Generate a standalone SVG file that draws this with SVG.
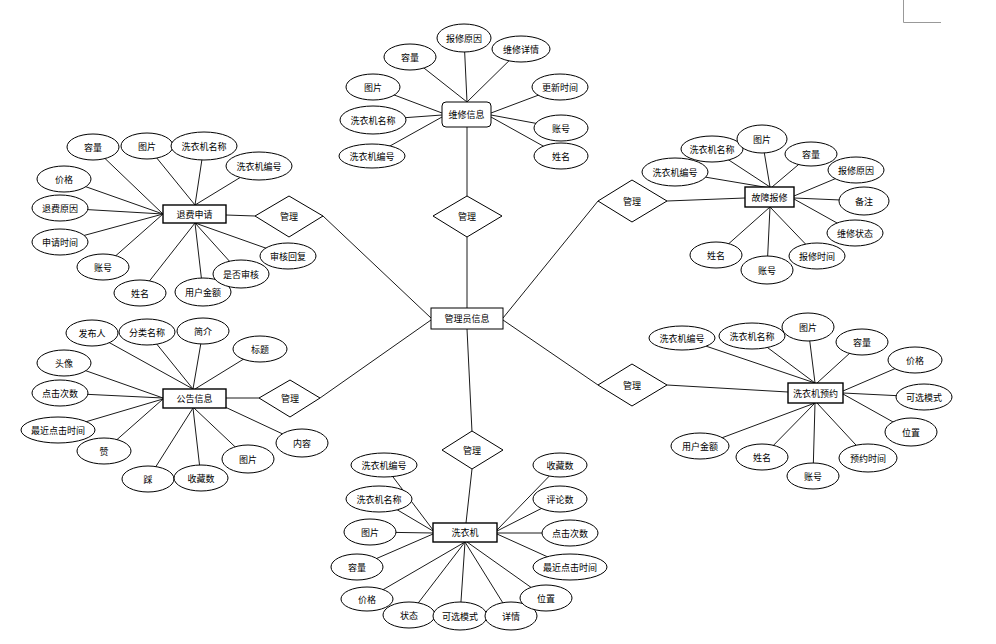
<svg xmlns="http://www.w3.org/2000/svg" width="996" height="644" viewBox="0 0 996 644">
<style>
.c line{stroke:#1a1a1a;stroke-width:1}
ellipse,rect,polygon{fill:#fff;stroke:#000;stroke-width:1}
rect.b{stroke-width:1.4}
text{font-family:"Noto Sans CJK SC","Liberation Sans",sans-serif;font-size:9px;fill:#000;text-anchor:middle;dominant-baseline:central}
</style>
<path d="M903.5 0V22.5H941" fill="none" stroke="#999" stroke-width="1"/>
<g id="connectors" class="c">
<line x1="467" y1="127" x2="467" y2="196"/>
<line x1="467" y1="237" x2="467" y2="308"/>
<line x1="226" y1="215" x2="255" y2="216"/>
<line x1="323" y1="216" x2="431" y2="318"/>
<line x1="598" y1="201" x2="503" y2="318"/>
<line x1="667" y1="201" x2="745" y2="198"/>
<line x1="226" y1="398" x2="259" y2="398"/>
<line x1="320" y1="398" x2="431" y2="320"/>
<line x1="598" y1="385" x2="503" y2="320"/>
<line x1="667" y1="385" x2="788" y2="392"/>
<line x1="467" y1="329" x2="472" y2="432"/>
<line x1="472" y1="469" x2="466" y2="523"/>
<line x1="410" y1="57" x2="467" y2="102"/>
<line x1="464" y1="38" x2="467" y2="102"/>
<line x1="521" y1="49" x2="467" y2="102"/>
<line x1="373" y1="87" x2="442" y2="113"/>
<line x1="373" y1="120" x2="442" y2="115"/>
<line x1="372" y1="156" x2="442" y2="117"/>
<line x1="560" y1="87" x2="491" y2="113"/>
<line x1="561" y1="128" x2="491" y2="115"/>
<line x1="561" y1="156" x2="491" y2="117"/>
<line x1="93" y1="147" x2="163" y2="214"/>
<line x1="64" y1="179" x2="163" y2="214"/>
<line x1="60" y1="208" x2="163" y2="214"/>
<line x1="60" y1="242" x2="163" y2="214"/>
<line x1="103" y1="267" x2="163" y2="214"/>
<line x1="147" y1="146" x2="195" y2="205"/>
<line x1="204" y1="146" x2="195" y2="205"/>
<line x1="259" y1="166" x2="195" y2="205"/>
<line x1="140" y1="293" x2="195" y2="223"/>
<line x1="203" y1="292" x2="195" y2="223"/>
<line x1="241" y1="274" x2="195" y2="223"/>
<line x1="288" y1="256" x2="195" y2="223"/>
<line x1="712" y1="149" x2="770" y2="187"/>
<line x1="675" y1="172" x2="770" y2="188"/>
<line x1="762" y1="139" x2="770" y2="187"/>
<line x1="811" y1="154" x2="772" y2="187"/>
<line x1="856" y1="170" x2="794" y2="196"/>
<line x1="864" y1="201" x2="794" y2="198"/>
<line x1="855" y1="233" x2="794" y2="199"/>
<line x1="817" y1="256" x2="770" y2="207"/>
<line x1="767" y1="270" x2="770" y2="207"/>
<line x1="716" y1="255" x2="770" y2="207"/>
<line x1="92" y1="333" x2="193" y2="389"/>
<line x1="147" y1="332" x2="193" y2="389"/>
<line x1="203" y1="331" x2="193" y2="389"/>
<line x1="260" y1="349" x2="195" y2="389"/>
<line x1="64" y1="363" x2="163" y2="398"/>
<line x1="60" y1="393" x2="163" y2="398"/>
<line x1="58" y1="430" x2="163" y2="399"/>
<line x1="104" y1="451" x2="163" y2="399"/>
<line x1="148" y1="479" x2="193" y2="408"/>
<line x1="201" y1="478" x2="193" y2="408"/>
<line x1="248" y1="459" x2="194" y2="408"/>
<line x1="302" y1="443" x2="225" y2="407"/>
<line x1="682" y1="338" x2="815" y2="383"/>
<line x1="752" y1="336" x2="815" y2="383"/>
<line x1="808" y1="327" x2="815" y2="383"/>
<line x1="862" y1="342" x2="817" y2="383"/>
<line x1="915" y1="360" x2="843" y2="391"/>
<line x1="924" y1="397" x2="843" y2="393"/>
<line x1="911" y1="432" x2="843" y2="394"/>
<line x1="868" y1="458" x2="817" y2="403"/>
<line x1="813" y1="476" x2="815" y2="403"/>
<line x1="762" y1="457" x2="815" y2="403"/>
<line x1="700" y1="446" x2="815" y2="403"/>
<line x1="384" y1="465" x2="433" y2="530"/>
<line x1="379" y1="499" x2="433" y2="531"/>
<line x1="370" y1="532" x2="433" y2="533"/>
<line x1="357" y1="567" x2="433" y2="534"/>
<line x1="560" y1="465" x2="497" y2="530"/>
<line x1="560" y1="499" x2="497" y2="531"/>
<line x1="570" y1="533" x2="497" y2="533"/>
<line x1="570" y1="567" x2="497" y2="534"/>
<line x1="367" y1="599" x2="465" y2="542"/>
<line x1="409" y1="615" x2="465" y2="542"/>
<line x1="460" y1="616" x2="465" y2="542"/>
<line x1="511" y1="616" x2="465" y2="542"/>
<line x1="546" y1="598" x2="467" y2="542"/>
</g>

<g id="admin"><rect x="431" y="308" width="72" height="21"/><text x="467" y="318.5">管理员信息</text></g>

<g id="rel-top"><polygon points="433,216 467,196 502,216 467,237"/><text x="467" y="216">管理</text></g>
<g id="rel-refund"><polygon points="255,216 289,196 323,216 289,237"/><text x="289" y="216">管理</text></g>
<g id="rel-fault"><polygon points="598,201 632,180 667,201 632,222"/><text x="632" y="201">管理</text></g>
<g id="rel-notice"><polygon points="259,398 290,380 320,398 290,417"/><text x="290" y="398">管理</text></g>
<g id="rel-booking"><polygon points="598,385 632,364 667,385 632,406"/><text x="632" y="385">管理</text></g>
<g id="rel-washer"><polygon points="442,450 472,431 503,450 472,469"/><text x="472" y="450">管理</text></g>

<g id="repair"><rect x="442" y="102" width="49" height="25" rx="4"/><text x="466.5" y="114.5">维修信息</text></g>
<g id="repair-attrs">
<ellipse cx="410" cy="57" rx="26" ry="13"/><text x="410" y="57">容量</text>
<ellipse cx="464" cy="38" rx="27" ry="14"/><text x="464" y="38">报修原因</text>
<ellipse cx="521" cy="49" rx="29" ry="13"/><text x="521" y="49">维修详情</text>
<ellipse cx="373" cy="87" rx="27" ry="13"/><text x="373" y="87">图片</text>
<ellipse cx="373" cy="120" rx="33" ry="14"/><text x="373" y="120">洗衣机名称</text>
<ellipse cx="372" cy="156" rx="33" ry="12"/><text x="372" y="156">洗衣机编号</text>
<ellipse cx="560" cy="87" rx="28" ry="13"/><text x="560" y="87">更新时间</text>
<ellipse cx="561" cy="128" rx="27" ry="13"/><text x="561" y="128">账号</text>
<ellipse cx="561" cy="156" rx="27" ry="13"/><text x="561" y="156">姓名</text>
</g>

<g id="refund"><rect class="b" x="163" y="205" width="63" height="18"/><text x="194.5" y="214">退费申请</text></g>
<g id="refund-attrs">
<ellipse cx="93" cy="147" rx="26" ry="13"/><text x="93" y="147">容量</text>
<ellipse cx="147" cy="146" rx="26" ry="13"/><text x="147" y="146">图片</text>
<ellipse cx="204" cy="146" rx="33" ry="14"/><text x="204" y="146">洗衣机名称</text>
<ellipse cx="259" cy="166" rx="33" ry="14"/><text x="259" y="166">洗衣机编号</text>
<ellipse cx="64" cy="179" rx="27" ry="13"/><text x="64" y="179">价格</text>
<ellipse cx="60" cy="208" rx="28" ry="13"/><text x="60" y="208">退费原因</text>
<ellipse cx="60" cy="242" rx="28" ry="13"/><text x="60" y="242">申请时间</text>
<ellipse cx="103" cy="267" rx="26" ry="13"/><text x="103" y="267">账号</text>
<ellipse cx="140" cy="293" rx="26" ry="13"/><text x="140" y="293">姓名</text>
<ellipse cx="203" cy="292" rx="28" ry="14"/><text x="203" y="292">用户金额</text>
<ellipse cx="241" cy="274" rx="28" ry="14"/><text x="241" y="274">是否审核</text>
<ellipse cx="288" cy="256" rx="28" ry="13"/><text x="288" y="256">审核回复</text>
</g>

<g id="fault"><rect class="b" x="745" y="187" width="49" height="20"/><text x="769.5" y="197">故障报修</text></g>
<g id="fault-attrs">
<ellipse cx="712" cy="149" rx="31" ry="13"/><text x="712" y="149">洗衣机名称</text>
<ellipse cx="762" cy="139" rx="25" ry="14"/><text x="762" y="139">图片</text>
<ellipse cx="811" cy="154" rx="26" ry="12"/><text x="811" y="154">容量</text>
<ellipse cx="675" cy="172" rx="33" ry="14"/><text x="675" y="172">洗衣机编号</text>
<ellipse cx="856" cy="170" rx="28" ry="13"/><text x="856" y="170">报修原因</text>
<ellipse cx="864" cy="201" rx="25" ry="14"/><text x="864" y="201">备注</text>
<ellipse cx="855" cy="233" rx="28" ry="13"/><text x="855" y="233">维修状态</text>
<ellipse cx="817" cy="256" rx="28" ry="13"/><text x="817" y="256">报修时间</text>
<ellipse cx="767" cy="270" rx="26" ry="14"/><text x="767" y="270">账号</text>
<ellipse cx="716" cy="255" rx="26" ry="13"/><text x="716" y="255">姓名</text>
</g>

<g id="notice"><rect class="b" x="163" y="389" width="63" height="19"/><text x="194.5" y="398.5">公告信息</text></g>
<g id="notice-attrs">
<ellipse cx="92" cy="333" rx="26" ry="13"/><text x="92" y="333">发布人</text>
<ellipse cx="147" cy="332" rx="28" ry="13"/><text x="147" y="332">分类名称</text>
<ellipse cx="203" cy="331" rx="26" ry="13"/><text x="203" y="331">简介</text>
<ellipse cx="260" cy="349" rx="27" ry="13"/><text x="260" y="349">标题</text>
<ellipse cx="64" cy="363" rx="27" ry="13"/><text x="64" y="363">头像</text>
<ellipse cx="60" cy="393" rx="28" ry="13"/><text x="60" y="393">点击次数</text>
<ellipse cx="58" cy="430" rx="37" ry="13"/><text x="58" y="430">最近点击时间</text>
<ellipse cx="104" cy="451" rx="27" ry="13"/><text x="104" y="451">赞</text>
<ellipse cx="148" cy="479" rx="26" ry="13"/><text x="148" y="479">踩</text>
<ellipse cx="201" cy="478" rx="27" ry="13"/><text x="201" y="478">收藏数</text>
<ellipse cx="248" cy="459" rx="26" ry="14"/><text x="248" y="459">图片</text>
<ellipse cx="302" cy="443" rx="26" ry="14"/><text x="302" y="443">内容</text>
</g>

<g id="booking"><rect class="b" x="788" y="383" width="55" height="20"/><text x="815.5" y="393">洗衣机预约</text></g>
<g id="booking-attrs">
<ellipse cx="682" cy="338" rx="33" ry="12"/><text x="682" y="338">洗衣机编号</text>
<ellipse cx="752" cy="336" rx="33" ry="13"/><text x="752" y="336">洗衣机名称</text>
<ellipse cx="808" cy="327" rx="26" ry="14"/><text x="808" y="327">图片</text>
<ellipse cx="862" cy="342" rx="26" ry="13"/><text x="862" y="342">容量</text>
<ellipse cx="915" cy="360" rx="27" ry="13"/><text x="915" y="360">价格</text>
<ellipse cx="924" cy="397" rx="28" ry="13"/><text x="924" y="397">可选模式</text>
<ellipse cx="911" cy="432" rx="26" ry="14"/><text x="911" y="432">位置</text>
<ellipse cx="868" cy="458" rx="29" ry="14"/><text x="868" y="458">预约时间</text>
<ellipse cx="813" cy="476" rx="26" ry="13"/><text x="813" y="476">账号</text>
<ellipse cx="762" cy="457" rx="26" ry="13"/><text x="762" y="457">姓名</text>
<ellipse cx="700" cy="446" rx="29" ry="13"/><text x="700" y="446">用户金额</text>
</g>

<g id="washer"><rect class="b" x="433" y="523" width="64" height="19"/><text x="465" y="532.5">洗衣机</text></g>
<g id="washer-attrs">
<ellipse cx="384" cy="465" rx="33" ry="12"/><text x="384" y="465">洗衣机编号</text>
<ellipse cx="379" cy="499" rx="33" ry="13"/><text x="379" y="499">洗衣机名称</text>
<ellipse cx="370" cy="532" rx="26" ry="13"/><text x="370" y="532">图片</text>
<ellipse cx="357" cy="567" rx="26" ry="13"/><text x="357" y="567">容量</text>
<ellipse cx="367" cy="599" rx="26" ry="12"/><text x="367" y="599">价格</text>
<ellipse cx="409" cy="615" rx="26" ry="13"/><text x="409" y="615">状态</text>
<ellipse cx="460" cy="616" rx="27" ry="14"/><text x="460" y="616">可选模式</text>
<ellipse cx="511" cy="616" rx="26" ry="14"/><text x="511" y="616">详情</text>
<ellipse cx="546" cy="598" rx="26" ry="13"/><text x="546" y="598">位置</text>
<ellipse cx="560" cy="465" rx="27" ry="12"/><text x="560" y="465">收藏数</text>
<ellipse cx="560" cy="499" rx="27" ry="13"/><text x="560" y="499">评论数</text>
<ellipse cx="570" cy="533" rx="28" ry="13"/><text x="570" y="533">点击次数</text>
<ellipse cx="570" cy="567" rx="37" ry="13"/><text x="570" y="567">最近点击时间</text>
</g>
</svg>
